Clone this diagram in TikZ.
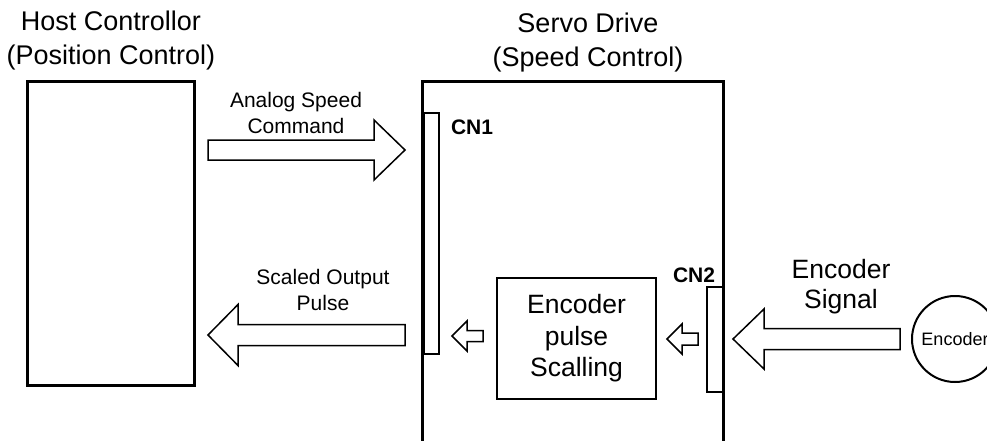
\documentclass[tikz,border=0pt]{standalone}
\usepackage{fontspec}
\setmainfont{Liberation Sans}
\newcommand{\blockarr}[6]{%
  \draw[arr] ({#1},{#4-#5}) -- ({#2},{#4-#5}) -- ({#2},{#4-#6}) -- ({#3},{#4})
    -- ({#2},{#4+#6}) -- ({#2},{#4+#5}) -- ({#1},{#4+#5}) -- cycle;}
\begin{document}
\begin{tikzpicture}[x=1pt,y=-1pt,
  arr/.style={draw=black,fill=white,line width=1.5pt,line join=miter},
  title/.style={align=center,font=\fontsize{27}{34}\selectfont,inner sep=0pt},
  lbl/.style={align=center,font=\fontsize{21}{25.5}\selectfont,inner sep=0pt},
  cnlbl/.style={font=\bfseries\fontsize{21}{22}\selectfont,inner sep=0pt},
  conn/.style={draw=black,fill=white,line width=1.5pt,inner sep=0pt,outer sep=0pt}]
\useasboundingbox (0,0) rectangle (987,441);
% titles
\node[title] (hosttitle) at (111,41) {Host Controllor\\(Position Control)};
\node[title] (servotitle) at (588,43) {Servo Drive\\(Speed Control)};
% host box
\node[draw,line width=3pt,minimum width=167pt,minimum height=303pt,inner sep=0pt] (host) at (110.5,233.5) {};
% servo drive (open at bottom)
\coordinate (sdbl) at (422,441);
\coordinate (sdtl) at (422,82);
\coordinate (sdtr) at (723,82);
\coordinate (sdbr) at (723,441);
\draw[line width=3pt,line join=miter] (sdbl) -- (sdtl) -- (sdtr) -- (sdbr);
% connectors CN1 / CN2
\node[conn,minimum width=15pt,minimum height=241pt] (cn1) at (431.5,233.5) {};
\node[conn,minimum width=16pt,minimum height=105pt] (cn2) at (715,339.5) {};
\draw[line width=3pt] (sdtl) -- (sdbl);
\draw[line width=3pt] (sdtr) -- (sdbr);
\node[cnlbl] (cn1l) at (472,127) {CN1};
\node[cnlbl] (cn2l) at (694,275) {CN2};
% encoder pulse scaling
\node[draw,line width=1.6pt,minimum width=159pt,minimum height=121pt,align=center,
  font=\fontsize{26.5}{31.5}\selectfont] (eps) at (576.5,338.5) {Encoder\\pulse\\Scalling};
% encoder
\node[draw,circle,line width=2pt,minimum size=86pt,inner sep=0pt,
  font=\fontsize{18}{20}\selectfont] (enc) at (955,339) {Encoder};
% block arrows
\blockarr{208}{374}{405}{150}{10}{30}
\blockarr{405}{238}{208}{335}{10.5}{30.5}
\blockarr{483}{467}{452}{336}{5.5}{15}
\blockarr{698}{682}{667}{339}{6}{15}
\blockarr{900}{764}{733}{339}{10.5}{30}
% labels
\node[lbl] (asc) at (296,113) {Analog Speed\\Command};
\node[lbl] (sop) at (323,290) {Scaled Output\\Pulse};
\node[align=center,font=\fontsize{26.5}{30}\selectfont,inner sep=0pt] (esig) at (841,287) {Encoder\\Signal};
\end{tikzpicture}
\end{document}
